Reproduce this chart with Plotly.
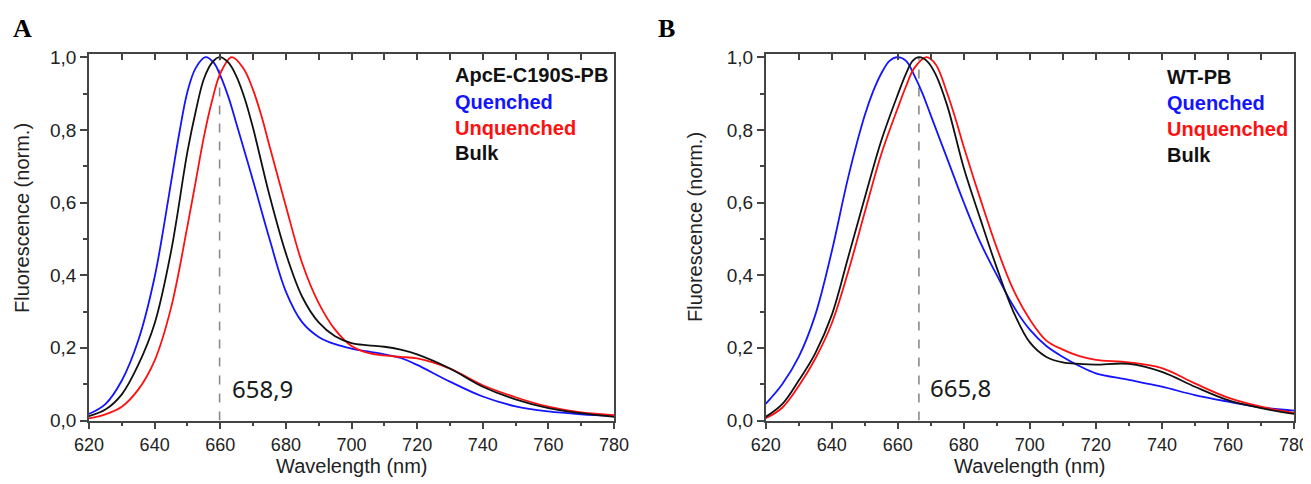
import plotly.graph_objects as go

# ---------------------------
# Data
# ---------------------------
# Panel A: ApcE-C190S-PB
a_quenched_nm = [620, 625, 630, 635, 640, 645, 647.5, 650, 652.5, 655.5, 658, 660, 662.5, 665, 670, 675, 680, 685, 690, 695, 700, 705, 710, 715, 720, 730, 740, 750, 760, 770, 780]
a_quenched = [0.018, 0.045, 0.11, 0.22, 0.395, 0.655, 0.79, 0.905, 0.97, 1.0, 0.985, 0.95, 0.89, 0.815, 0.66, 0.50, 0.355, 0.27, 0.23, 0.21, 0.198, 0.19, 0.182, 0.172, 0.153, 0.107, 0.066, 0.039, 0.025, 0.017, 0.012]

a_unquenched_nm = [620, 625, 630, 635, 640, 645, 650, 652.5, 655, 657.5, 660, 663.5, 667, 670, 672.5, 675, 680, 685, 690, 695, 700, 705, 710, 715, 720, 730, 740, 750, 760, 770, 780]
a_unquenched = [0.006, 0.017, 0.038, 0.085, 0.165, 0.31, 0.535, 0.657, 0.78, 0.88, 0.955, 1.0, 0.97, 0.91, 0.84, 0.756, 0.59, 0.432, 0.323, 0.25, 0.205, 0.186, 0.179, 0.175, 0.171, 0.143, 0.097, 0.064, 0.038, 0.022, 0.015]

a_bulk_nm = [620, 625, 630, 635, 640, 645, 650, 652.5, 655, 657.5, 659.8, 662.5, 665, 667.5, 670, 675, 680, 685, 690, 695, 700, 705, 710, 715, 720, 730, 740, 750, 760, 770, 780]
a_bulk = [0.012, 0.03, 0.072, 0.153, 0.267, 0.465, 0.74, 0.85, 0.94, 0.985, 1.0, 0.985, 0.946, 0.885, 0.805, 0.62, 0.46, 0.34, 0.27, 0.232, 0.213, 0.207, 0.203, 0.195, 0.182, 0.143, 0.093, 0.058, 0.034, 0.02, 0.01]

# Panel B: WT-PB
b_quenched_nm = [620, 625, 630, 635, 640, 645, 650, 652.5, 655, 657.5, 659.9, 662.5, 665, 667.5, 670, 675, 680, 685, 690, 695, 700, 705, 710, 715, 720, 730, 740, 750, 760, 770, 780]
b_quenched = [0.046, 0.10, 0.175, 0.29, 0.465, 0.67, 0.84, 0.905, 0.955, 0.99, 1.0, 0.99, 0.95, 0.90, 0.84, 0.72, 0.60, 0.49, 0.40, 0.315, 0.25, 0.205, 0.175, 0.15, 0.13, 0.112, 0.093, 0.07, 0.052, 0.036, 0.027]

b_unquenched_nm = [620, 625, 630, 635, 640, 645, 650, 655, 660, 662.5, 665, 668.7, 671.5, 675, 677.5, 680, 685, 690, 695, 700, 705, 710, 715, 720, 730, 740, 750, 760, 770, 780]
b_unquenched = [0.006, 0.035, 0.095, 0.17, 0.267, 0.41, 0.573, 0.733, 0.86, 0.92, 0.97, 1.0, 0.98, 0.9, 0.83, 0.753, 0.61, 0.475, 0.36, 0.278, 0.22, 0.195, 0.177, 0.167, 0.16, 0.144, 0.102, 0.063, 0.038, 0.021]

b_bulk_nm = [620, 625, 630, 635, 640, 645, 650, 655, 660, 662.5, 664.5, 666.5, 669, 671.5, 675, 680, 685, 690, 695, 700, 705, 710, 715, 720, 730, 740, 750, 760, 770, 780]
b_bulk = [0.01, 0.045, 0.11, 0.185, 0.29, 0.45, 0.613, 0.77, 0.897, 0.955, 0.99, 1.0, 0.988, 0.952, 0.866, 0.695, 0.555, 0.42, 0.30, 0.215, 0.175, 0.16, 0.156, 0.154, 0.156, 0.134, 0.093, 0.056, 0.034, 0.018]

# dashed marker lines and their labels
peak_pos = [659.8, 666.4]
peak_text = ["658,9", "665,8"]
sample_names = ["ApcE-C190S-PB", "WT-PB"]
panel_letters = ["A", "B"]
series_names = ["Quenched", "Unquenched", "Bulk"]

BLUE = "#1414ff"
RED = "#ff1010"
BLACK = "#111111"
FRAME = "#444444"
FONT = "Liberation Sans, Arial, sans-serif"

# the page body keeps an 8 px margin, so the figure is drawn 8 px in from the corner
OFF = 8
W, H = 1311 - OFF, 484 - OFF


def px(sx):
    # screen x pixel -> paper x
    return (sx - OFF) / W


def py(sy):
    # screen y pixel -> paper y
    return 1 - (sy - OFF) / H


# screen pixel layout of the two plot boxes
box_a = (89, 614)
box_b = (765.7, 1294)
box_top, box_bottom = 53.5, 420.5

fig = go.Figure()

panels = [
    ("x", "y", [(a_quenched_nm, a_quenched, BLUE), (a_unquenched_nm, a_unquenched, RED), (a_bulk_nm, a_bulk, BLACK)]),
    ("x2", "y2", [(b_quenched_nm, b_quenched, BLUE), (b_unquenched_nm, b_unquenched, RED), (b_bulk_nm, b_bulk, BLACK)]),
]

for xa, ya, series in panels:
    for (wl, vals, col), name in zip(series, series_names):
        fig.add_trace(go.Scatter(x=wl, y=vals, mode="lines", name=name, showlegend=False,
                                 line=dict(color=col, width=1.8, shape="spline", smoothing=1.0),
                                 xaxis=xa, yaxis=ya, hoverinfo="skip"))
# empty traces so the top tick axes get drawn
fig.add_trace(go.Scatter(x=[], y=[], xaxis="x3", yaxis="y", showlegend=False))
fig.add_trace(go.Scatter(x=[], y=[], xaxis="x4", yaxis="y2", showlegend=False))

ydom = [py(box_bottom), py(box_top)]
yrange = [0, (box_bottom - box_top) / (box_bottom - 57.2)]


def x_axis(box, anchor):
    return dict(domain=[px(box[0]), px(box[1])], range=[620, 780], anchor=anchor, automargin=False,
                dtick=20, tick0=620, tickformat="d", ticks="outside", ticklen=7, tickwidth=1.5, tickcolor=FRAME,
                minor=dict(dtick=10, ticks="outside", ticklen=4, tickwidth=1.5, tickcolor=FRAME),
                showline=True, linecolor=FRAME, linewidth=1.6, mirror=True,
                showgrid=False, zeroline=False, tickfont=dict(family=FONT, size=18, color="#222"))


def top_axis(overlay, anchor):
    return dict(overlaying=overlay, anchor=anchor, side="top", range=[620, 780], matches=overlay, automargin=False,
                dtick=10, tick0=620, ticks="inside", ticklen=6, tickwidth=1.5, tickcolor=FRAME,
                showticklabels=False, showline=False, showgrid=False, zeroline=False)


def y_axis(anchor):
    return dict(domain=ydom, range=yrange, anchor=anchor, automargin=False,
                dtick=0.2, tick0=0, tickformat=".1f", ticks="outside", ticklen=7, tickwidth=1.5, tickcolor=FRAME,
                minor=dict(dtick=0.1, ticks="outside", ticklen=4, tickwidth=1.5, tickcolor=FRAME),
                showline=True, linecolor=FRAME, linewidth=1.6, mirror=True,
                showgrid=False, zeroline=False, tickfont=dict(family=FONT, size=19, color="#222"))


shapes = []
annotations = []
legend_pos = [(730.9, [0.951, 0.878, 0.806, 0.736]), (740.9, [0.945, 0.873, 0.802, 0.731])]
label_pos = [(663.0, 0.087), (669.2, 0.092)]
letter_x = [11, 656]
ytitle = [(22, 218), (695, 227)]

for i, (xa, ya) in enumerate([("x", "y"), ("x2", "y2")]):
    shapes.append(dict(type="line", xref=xa, yref=ya, x0=peak_pos[i], x1=peak_pos[i], y0=0, y1=1.0,
                       line=dict(color="#8a8a8a", width=1.6, dash="dash"), layer="below"))
    lx, ly = legend_pos[i]
    for txt, col, yy in zip([sample_names[i]] + series_names, [BLACK, BLUE, RED, BLACK], ly):
        annotations.append(dict(x=lx, y=yy, xref=xa, yref=ya, text=f"<b>{txt}</b>", showarrow=False,
                                xanchor="left", yanchor="middle", font=dict(family=FONT, size=20, color=col)))
    lbx, lby = label_pos[i]
    annotations.append(dict(x=lbx, y=lby, xref=xa, yref=ya, text=peak_text[i], showarrow=False,
                            xanchor="left", yanchor="middle", font=dict(family="Noto Sans, Open Sans, sans-serif", size=24, color="#1a1a1a")))
    box = box_a if i == 0 else box_b
    annotations.append(dict(x=px((box[0] + box[1]) / 2), y=py(466), xref="paper", yref="paper",
                            text="Wavelength (nm)", showarrow=False, xanchor="center", yanchor="middle",
                            font=dict(family=FONT, size=20, color="#222")))
    tx, ty = ytitle[i]
    annotations.append(dict(x=px(tx), y=py(ty), xref="paper", yref="paper", text="Fluorescence (norm.)",
                            showarrow=False, textangle=-90, xanchor="center", yanchor="middle",
                            font=dict(family=FONT, size=20, color="#222")))
    annotations.append(dict(x=px(letter_x[i]), y=py(12), xref="paper", yref="paper", text=f"<b>{panel_letters[i]}</b>",
                            showarrow=False, xanchor="left", yanchor="top",
                            font=dict(family="Liberation Serif, Times New Roman, serif", size=26, color="#000")))

fig.update_layout(
    template="none",
    width=W, height=H,
    margin=dict(l=0, r=0, t=0, b=0, pad=0),
    paper_bgcolor="white", plot_bgcolor="white",
    separators=",.",
    showlegend=False,
    xaxis=x_axis(box_a, "y"),
    yaxis=y_axis("x"),
    xaxis2=x_axis(box_b, "y2"),
    yaxis2=y_axis("x2"),
    xaxis3=top_axis("x", "y"),
    xaxis4=top_axis("x2", "y2"),
    shapes=shapes,
    annotations=annotations,
)

fig.write_html("out.html")
